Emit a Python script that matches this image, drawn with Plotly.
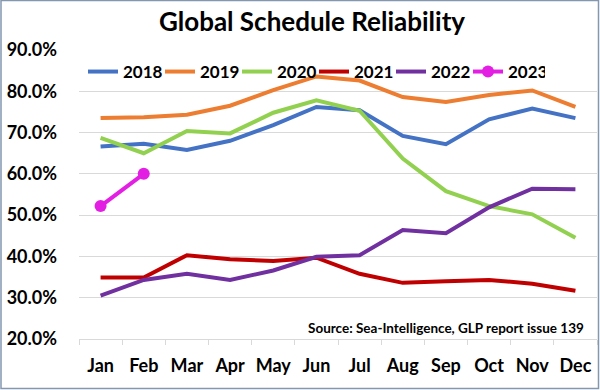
import plotly.graph_objects as go

months = ["Jan", "Feb", "Mar", "Apr", "May", "Jun", "Jul", "Aug", "Sep", "Oct", "Nov", "Dec"]
y2018 = [66.6, 67.3, 65.8, 68.0, 71.8, 76.2, 75.4, 69.2, 67.2, 73.2, 75.8, 73.5]
y2019 = [73.5, 73.7, 74.3, 76.5, 80.3, 83.6, 82.6, 78.6, 77.4, 79.1, 80.2, 76.2]
y2020 = [68.7, 65.0, 70.4, 69.8, 74.8, 77.8, 75.3, 63.7, 55.8, 52.2, 50.2, 44.5]
y2021 = [34.9, 34.9, 40.3, 39.3, 38.9, 39.7, 35.8, 33.6, 34.0, 34.3, 33.4, 31.7]
y2022 = [30.5, 34.3, 35.8, 34.3, 36.6, 39.9, 40.3, 46.4, 45.6, 51.9, 56.4, 56.3]
y2023 = [52.2, 60.0]

series = [
    ("2018", y2018, "#4472C4"),
    ("2019", y2019, "#ED7D31"),
    ("2020", y2020, "#92D050"),
    ("2021", y2021, "#C00000"),
    ("2022", y2022, "#7030A0"),
]

FONT = "Lato"
fig = go.Figure()
for name, vals, col in series:
    fig.add_trace(go.Scatter(x=months[:len(vals)], y=vals, name=name, mode="lines",
                             line=dict(color=col, width=4)))
fig.add_trace(go.Scatter(x=months[:len(y2023)], y=y2023, name="2023", mode="lines+markers",
                         line=dict(color="#E31FE3", width=4),
                         marker=dict(color="#E31FE3", size=12)))

W, H = 600, 390
L, R, T, B = 79, 3, 50, 51
pw, ph = W - L - R, H - T - B

fig.update_layout(
    width=W, height=H,
    margin=dict(l=L, r=R, t=T, b=B, autoexpand=False),
    paper_bgcolor="white", plot_bgcolor="white",
    font=dict(family=FONT, color="black", weight="bold"),
    title=dict(text="Global Schedule Reliability", x=312 / W, xanchor="center",
               y=1 - 22 / H, yanchor="middle",
               font=dict(family=FONT, size=26, color="black", weight="bold")),
    showlegend=True,
    legend=dict(orientation="h", x=(83 - L) / pw, xanchor="left", y=1 - (72 - T) / ph, yanchor="middle",
                font=dict(family=FONT, size=17, color="black", weight="bold"),
                bgcolor="rgba(0,0,0,0)", entrywidth=32, entrywidthmode="pixels",
                itemwidth=30, tracegroupgap=0),
    xaxis=dict(type="category", categoryorder="array", categoryarray=months,
               range=[-0.5, 11.5], showgrid=False, showline=True, linecolor="#D9D9D9", linewidth=1,
               ticks="outside", tickson="boundaries", ticklen=5, tickcolor="#D9D9D9",
               ticklabelstandoff=10, tickangle=0, automargin=False,
               tickfont=dict(family=FONT, size=18, color="black", weight="bold")),
    yaxis=dict(range=[20, 90], dtick=10, tickformat=".1f", ticksuffix="%",
               showgrid=True, gridcolor="#D9D9D9", gridwidth=1, zeroline=False,
               showline=False, ticks="", ticklabelstandoff=21, automargin=False,
               tickfont=dict(family=FONT, size=18, color="black", weight="bold")),
    annotations=[dict(text="Source: Sea-Intelligence, GLP report issue 139",
                      xref="paper", yref="paper", x=(586 - L) / pw, y=1 - (328 - T) / ph,
                      xanchor="right", yanchor="middle", showarrow=False,
                      font=dict(family=FONT, size=13.5, color="black", weight="bold"))],
    shapes=[dict(type="rect", xref="paper", yref="paper",
                 x0=(1 - L) / pw, x1=(W - 1.5 - L) / pw,
                 y0=1 - (H - 1.5 - T) / ph, y1=1 - (0.5 - T) / ph,
                 line=dict(color="#8497B0", width=1.5), fillcolor="rgba(0,0,0,0)", layer="above")],
)

fig.write_html("out.html", config={"displayModeBar": False},
               post_script="document.body.style.margin='0';document.body.style.overflow='hidden';")
